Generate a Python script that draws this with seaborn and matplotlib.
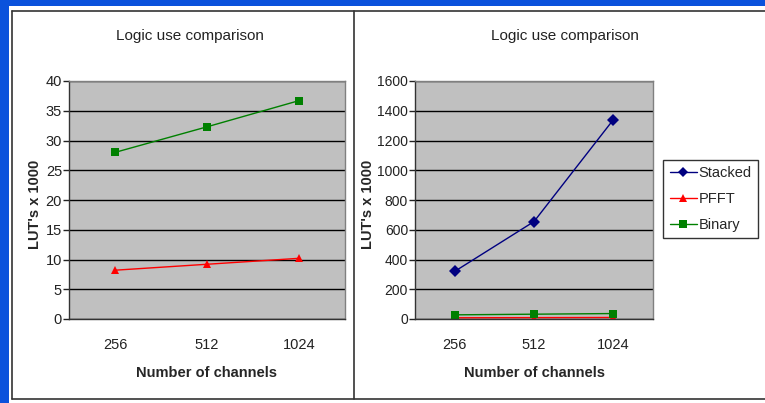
import matplotlib
matplotlib.use("Agg")
import matplotlib.pyplot as plt
import seaborn as sns
import pandas as pd
from matplotlib.patches import Rectangle
from matplotlib.lines import Line2D

# values (LUT's x 1000)
channels = ["256", "512", "1024"]
stacked = [320, 655, 1340]
pfft = [8.2, 9.2, 10.2]
binary = [28.0, 32.3, 36.7]

series_names = ["Stacked", "PFFT", "Binary"]
series_colors = {"Stacked": "#000080", "PFFT": "#FF0000", "Binary": "#008000"}
series_markers = {"Stacked": "D", "PFFT": "^", "Binary": "s"}

sns.set_theme(style="white")
plt.rcParams['font.family'] = ['Liberation Sans Narrow', 'Liberation Sans', 'DejaVu Sans']

W, H = 765, 403

def fx(px):
    return px / W

def fy(py):
    return 1 - py / H

fig = plt.figure(figsize=(W / 100, H / 100), dpi=100)
fig.patch.set_facecolor('#0b52dc')

# white slide area + chart frames
fig.add_artist(Rectangle((fx(9), 0), 1 - fx(9), fy(6), transform=fig.transFigure,
                         facecolor='white', edgecolor='none', zorder=-10))
for xs, ys in [([fx(12), 1], [fy(11), fy(11)]),
               ([fx(12), 1], [fy(399), fy(399)]),
               ([fx(12), fx(12)], [fy(11), fy(399)]),
               ([fx(354), fx(354)], [fy(11), fy(399)])]:
    fig.add_artist(Line2D(xs, ys, color='#333333', lw=1.2, zorder=-5))


def build_df(names):
    vals = {"Stacked": stacked, "PFFT": pfft, "Binary": binary}
    rows = []
    for n in names:
        for i, v in enumerate(vals[n]):
            rows.append({"pos": i, "value": v, "series": n})
    return pd.DataFrame(rows)


def style_axes(ax, ymax, step, ylab_x):
    ax.set_facecolor('#C0C0C0')
    ax.set_xlim(-0.5, 2.5)
    ax.set_ylim(0, ymax)
    ax.set_yticks(range(0, ymax + 1, step))
    ax.yaxis.grid(True, color='black', lw=1.0)
    ax.xaxis.grid(False)
    ax.set_axisbelow(True)
    ax.set_xticks([0, 1, 2])
    ax.set_xticklabels(channels)
    ax.set_xticks([-0.5, 0.5, 1.5, 2.5], minor=True)
    ax.tick_params(axis='x', which='major', length=0, pad=14, labelsize=10.5, colors='#222222')
    ax.tick_params(axis='x', which='minor', length=4, width=1, direction='out', color='#333333')
    ax.tick_params(axis='y', length=4, width=1, direction='out', pad=1, labelsize=10.5,
                   colors='#222222', left=True)
    for s in ['top', 'right']:
        ax.spines[s].set_color('#808080')
        ax.spines[s].set_linewidth(1)
    for s in ['left', 'bottom']:
        ax.spines[s].set_color('#333333')
        ax.spines[s].set_linewidth(1)
    ax.set_xlabel("Number of channels", fontsize=10.5, fontweight='bold', labelpad=10)
    ax.set_ylabel("LUT's x 1000", fontsize=10.5, fontweight='bold')
    ax.yaxis.set_label_coords(ylab_x, 0.48)


# left chart: PFFT and Binary
ax1 = fig.add_axes([fx(69), fy(319), fx(345) - fx(69), fy(81) - fy(319)])
names1 = ["PFFT", "Binary"]
sns.lineplot(data=build_df(names1), x="pos", y="value", hue="series", style="series",
             palette=series_colors, markers=series_markers, dashes=False,
             hue_order=names1, style_order=names1, lw=1, markersize=6,
             markeredgewidth=0, ax=ax1, legend=False)
style_axes(ax1, 40, 5, (42 - 69) / 276)

# right chart: all three
ax2 = fig.add_axes([fx(415), fy(319), fx(653) - fx(415), fy(81) - fy(319)])
sns.lineplot(data=build_df(series_names), x="pos", y="value", hue="series", style="series",
             palette=series_colors, markers=series_markers, dashes=False,
             hue_order=series_names, style_order=series_names, lw=1, markersize=6,
             markeredgewidth=0, ax=ax2, legend=False)
style_axes(ax2, 1600, 200, (375 - 415) / 238)
for t in ax2.get_yticklabels():
    t.set_fontsize(10)

fig.text(fx(190), fy(36), "Logic use comparison", ha='center', va='center', fontsize=11, color='#222222')
fig.text(fx(565), fy(36), "Logic use comparison", ha='center', va='center', fontsize=11, color='#222222')

handles = [Line2D([0], [0], color=series_colors[n], marker=series_markers[n], lw=1,
                  markersize=5.5, markeredgewidth=0) for n in series_names]
leg = ax2.legend(handles, series_names, loc='center left',
                 bbox_to_anchor=(fx(663), fy(199)), bbox_transform=fig.transFigure,
                 frameon=True, fancybox=False, fontsize=10.5, handlelength=1.9,
                 handletextpad=0.1, borderpad=0.45, labelspacing=0.8, borderaxespad=0)
leg.get_frame().set_edgecolor('black')
leg.get_frame().set_linewidth(1)

fig.savefig("out.png", dpi=100, facecolor=fig.get_facecolor())
